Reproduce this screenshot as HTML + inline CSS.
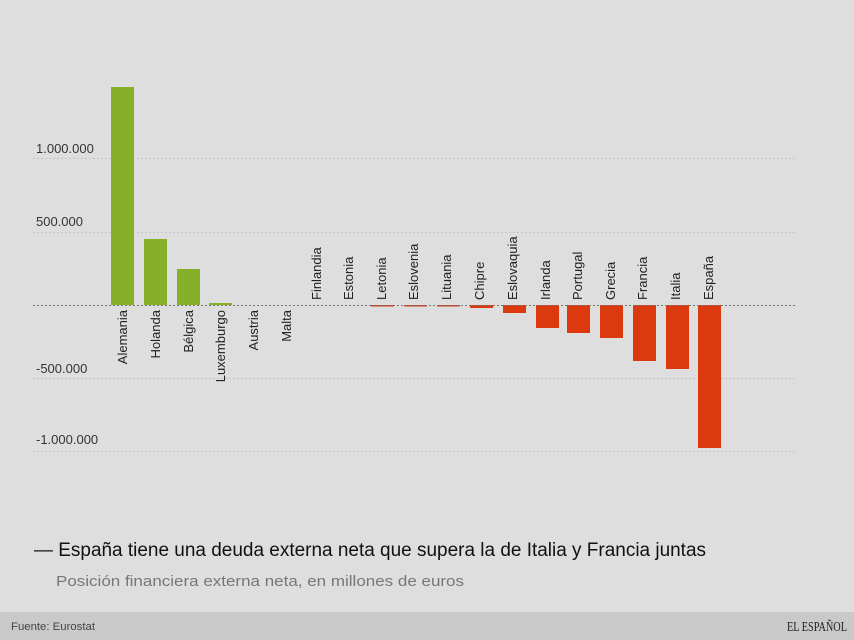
<!DOCTYPE html>
<html><head><meta charset="utf-8"><style>
body{margin:0;width:854px;height:640px;background:#dedede;overflow:hidden;font-family:"Liberation Sans",sans-serif;}
</style></head><body>
<svg width="854" height="640" xmlns="http://www.w3.org/2000/svg" style="position:absolute;left:0;top:0">
<rect width="854" height="640" fill="#dedede"/>
<g stroke="#c4c4c4" stroke-dasharray="2,2" stroke-width="1">
<line x1="33" x2="796" y1="158.5" y2="158.5"/>
<line x1="33" x2="796" y1="232.5" y2="232.5"/>
<line x1="33" x2="796" y1="378.5" y2="378.5"/>
<line x1="33" x2="796" y1="451.5" y2="451.5"/>
</g>
<g font-size="13" fill="#333">
<text x="36" y="153">1.000.000</text>
<text x="36" y="226">500.000</text>
<text x="36" y="373">-500.000</text>
<text x="36" y="444">-1.000.000</text>
</g>
<g fill="#86b02a">
<rect x="111" y="87" width="23" height="218"/>
<rect x="144" y="239" width="23" height="66"/>
<rect x="177" y="269" width="23" height="36"/>
<rect x="209" y="303" width="23" height="2"/>
</g>
<g fill="#dc3a0e">
<rect x="371" y="305" width="23" height="1.5"/>
<rect x="404" y="305" width="23" height="1.5"/>
<rect x="437" y="305" width="23" height="1.5"/>
<rect x="470" y="305" width="23" height="3"/>
<rect x="503" y="305" width="23" height="8"/>
<rect x="536" y="305" width="23" height="23"/>
<rect x="567" y="305" width="23" height="28"/>
<rect x="600" y="305" width="23" height="33"/>
<rect x="633" y="305" width="23" height="56"/>
<rect x="666" y="305" width="23" height="64"/>
<rect x="698" y="305" width="23" height="143"/>
</g>
<line x1="33" x2="796" y1="305.5" y2="305.5" stroke="#777" stroke-dasharray="2,2"/>
<g font-size="13" fill="#222" text-anchor="end">
<text transform="translate(127,310) rotate(-90)">Alemania</text>
<text transform="translate(160,310) rotate(-90)">Holanda</text>
<text transform="translate(193,310) rotate(-90)">Bélgica</text>
<text transform="translate(225,310) rotate(-90)">Luxemburgo</text>
<text transform="translate(258,310) rotate(-90)">Austria</text>
<text transform="translate(291,310) rotate(-90)">Malta</text>
</g>
<g font-size="13" fill="#222" text-anchor="start">
<text transform="translate(321,300) rotate(-90)">Finlandia</text>
<text transform="translate(353,300) rotate(-90)">Estonia</text>
<text transform="translate(386,300) rotate(-90)">Letonia</text>
<text transform="translate(418,300) rotate(-90)">Eslovenia</text>
<text transform="translate(451,300) rotate(-90)">Lituania</text>
<text transform="translate(484,300) rotate(-90)">Chipre</text>
<text transform="translate(517,300) rotate(-90)">Eslovaquia</text>
<text transform="translate(550,300) rotate(-90)">Irlanda</text>
<text transform="translate(582,300) rotate(-90)">Portugal</text>
<text transform="translate(615,300) rotate(-90)">Grecia</text>
<text transform="translate(647,300) rotate(-90)">Francia</text>
<text transform="translate(680,300) rotate(-90)">Italia</text>
<text transform="translate(713,300) rotate(-90)">España</text>
</g>
<text x="34" y="556" font-size="19" fill="#111" textLength="672" lengthAdjust="spacingAndGlyphs">— España tiene una deuda externa neta que supera la de Italia y Francia juntas</text>
<text x="56" y="586" font-size="15" fill="#777" textLength="408" lengthAdjust="spacingAndGlyphs">Posición financiera externa neta, en millones de euros</text>
<rect x="0" y="612" width="854" height="28" fill="#c9c9c9"/>
<text x="11" y="630" font-size="11" fill="#444" textLength="84" lengthAdjust="spacingAndGlyphs">Fuente: Eurostat</text>
<text x="787" y="631" font-size="14" fill="#222" font-family="Liberation Serif,serif" textLength="60" lengthAdjust="spacingAndGlyphs">EL ESPAÑOL</text>
</svg>
</body></html>
